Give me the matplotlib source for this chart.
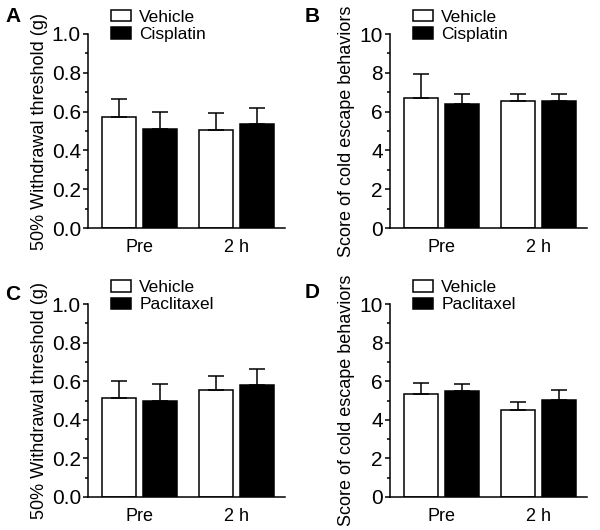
import matplotlib
matplotlib.use("Agg")
import matplotlib.pyplot as plt
from matplotlib.patches import Patch
from matplotlib.ticker import MultipleLocator

plt.rcParams['font.family'] = ['Liberation Sans', 'DejaVu Sans']

groups = ["Pre", "2 h"]

# panel A: withdrawal threshold, cisplatin
a_vehicle = [0.572, 0.505]
a_vehicle_sem = [0.093, 0.089]
a_drug = [0.510, 0.534]
a_drug_sem = [0.088, 0.083]

# panel B: cold escape score, cisplatin
b_vehicle = [6.69, 6.53]
b_vehicle_sem = [1.24, 0.40]
b_drug = [6.38, 6.53]
b_drug_sem = [0.54, 0.40]

# panel C: withdrawal threshold, paclitaxel
c_vehicle = [0.515, 0.553]
c_vehicle_sem = [0.085, 0.073]
c_drug = [0.500, 0.579]
c_drug_sem = [0.083, 0.085]

# panel D: cold escape score, paclitaxel
d_vehicle = [5.32, 4.49]
d_vehicle_sem = [0.60, 0.42]
d_drug = [5.49, 5.02]
d_drug_sem = [0.39, 0.51]

fig = plt.figure(figsize=(6, 5.3), dpi=100)

w = 0.35
off = 0.21
lw = 1.1


def panel(rect, veh, veh_err, drug, drug_err, drug_name, ylabel, ymax, major, letter, letter_xy):
    ax = fig.add_axes(rect)
    x = [0, 1]
    xv = [i - off for i in x]
    xd = [i + off for i in x]
    ax.bar(xv, veh, w, color='white', edgecolor='black', linewidth=lw, zorder=2)
    ax.bar(xd, drug, w, color='black', edgecolor='black', linewidth=lw, zorder=2)
    ax.errorbar(xv, veh, yerr=[[0, 0], veh_err], fmt='none', ecolor='black',
                elinewidth=lw, capsize=6, capthick=lw, zorder=3)
    ax.errorbar(xd, drug, yerr=[[0, 0], drug_err], fmt='none', ecolor='black',
                elinewidth=lw, capsize=6, capthick=lw, zorder=1)
    ax.set_xlim(-0.53, 1.5)
    ax.set_ylim(0, ymax)
    ax.yaxis.set_major_locator(MultipleLocator(major))
    ax.yaxis.set_minor_locator(MultipleLocator(major / 2))
    if ymax < 2:
        ax.set_yticklabels([f"{v:.1f}" for v in ax.get_yticks()])
    ax.set_xticks(x)
    ax.set_xticklabels(groups)
    ax.tick_params(axis='x', length=0, labelsize=13, pad=8)
    ax.tick_params(axis='y', which='major', length=3.6, width=lw, labelsize=15, pad=1.5)
    ax.tick_params(axis='y', which='minor', length=2.2, width=lw)
    for s in ['top', 'right']:
        ax.spines[s].set_visible(False)
    for s in ['left', 'bottom']:
        ax.spines[s].set_linewidth(lw)
    ax.set_ylabel(ylabel, fontsize=13, labelpad=3)
    handles = [Patch(facecolor='white', edgecolor='black', linewidth=lw),
               Patch(facecolor='black', edgecolor='black', linewidth=lw)]
    ax.legend(handles, ["Vehicle", drug_name], loc='upper left',
              bbox_to_anchor=(0.115, 1.125), frameon=False, fontsize=12.5,
              handlelength=1.2, handleheight=0.65, handletextpad=0.45,
              labelspacing=0.15, borderpad=0, borderaxespad=0)
    fig.text(letter_xy[0], letter_xy[1], letter, fontsize=15, fontweight='bold',
             va='baseline')
    return ax


top_b = 1 - 228 / 530
top_h = 194 / 530
bot_b = 1 - 497 / 530
bot_h = 193 / 530
aw = 197 / 600

panel([88 / 600, top_b, aw, top_h], a_vehicle, a_vehicle_sem, a_drug, a_drug_sem,
      "Cisplatin", "50% Withdrawal threshold (g)", 1.0, 0.2, "A", (5 / 600, 1 - 22 / 530))
panel([390 / 600, top_b, aw, top_h], b_vehicle, b_vehicle_sem, b_drug, b_drug_sem,
      "Cisplatin", "Score of cold escape behaviors", 10, 2, "B", (305 / 600, 1 - 22 / 530))
panel([88 / 600, bot_b, aw, bot_h], c_vehicle, c_vehicle_sem, c_drug, c_drug_sem,
      "Paclitaxel", "50% Withdrawal threshold (g)", 1.0, 0.2, "C", (5 / 600, 1 - 300 / 530))
panel([390 / 600, bot_b, aw, bot_h], d_vehicle, d_vehicle_sem, d_drug, d_drug_sem,
      "Paclitaxel", "Score of cold escape behaviors", 10, 2, "D", (305 / 600, 1 - 298 / 530))

fig.savefig("out.png", dpi=100)
